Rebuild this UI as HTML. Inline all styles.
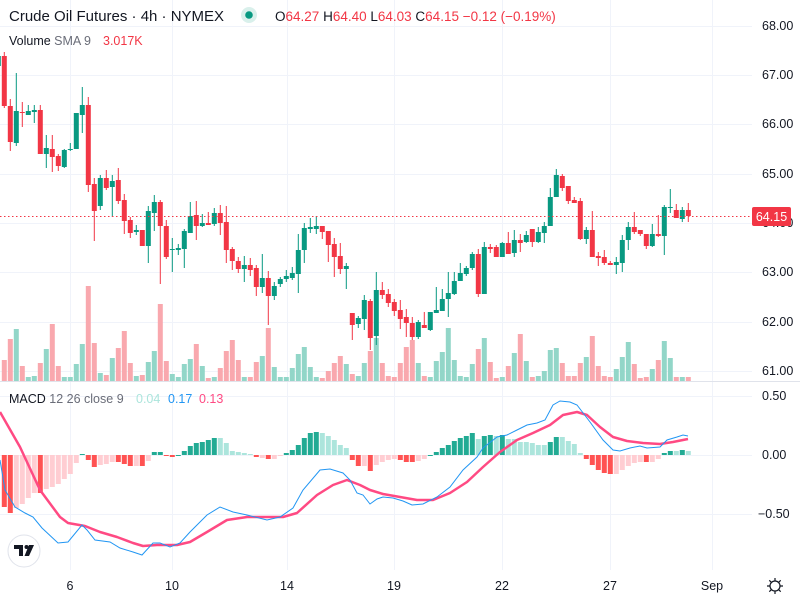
<!DOCTYPE html>
<html><head><meta charset="utf-8"><style>
html,body{margin:0;padding:0;background:#fff;width:800px;height:600px;overflow:hidden}
svg{display:block}
text{font-family:"Liberation Sans",sans-serif}
</style></head><body>
<svg id="s" width="800" height="600" xmlns="http://www.w3.org/2000/svg">
<g id="grid" stroke="#f0f3fa" stroke-width="1"></g>
<line x1="0" y1="381.5" x2="800" y2="381.5" stroke="#e0e3eb"/>
<g id="vol"></g>
<g id="hist"></g>
<g id="cand"></g>
<line x1="0" y1="216.5" x2="752" y2="216.5" stroke="#f23645" stroke-dasharray="1.5,2.5"/>
<polyline id="sig" fill="none" stroke="#ff4a83" stroke-width="2.5" stroke-linejoin="round"/>
<polyline id="mac" fill="none" stroke="#2196f3" stroke-width="1"/>
<g font-size="12.5" fill="#131722">
<text x="762" y="30">68.00</text><text x="762" y="79">67.00</text><text x="762" y="128">66.00</text>
<text x="762" y="178">65.00</text><text x="762" y="227">64.00</text><text x="762" y="276">63.00</text>
<text x="762" y="326">62.00</text><text x="762" y="375">61.00</text>
<text x="762" y="400">0.50</text><text x="762" y="459">0.00</text><text x="758" y="518">−0.50</text>
</g>
<rect x="752" y="207" width="39" height="19" rx="2" fill="#f23645"/>
<text x="771.5" y="221" font-size="12.5" fill="#fff" text-anchor="middle">64.15</text>
<g font-size="12.5" fill="#131722" text-anchor="middle">
<text x="70" y="590">6</text><text x="172" y="590">10</text><text x="287" y="590">14</text>
<text x="394" y="590">19</text><text x="502" y="590">22</text><text x="610" y="590">27</text>
<text x="712" y="590">Sep</text>
</g>
<g stroke="#131722" fill="none" stroke-width="1.2">
<circle cx="775" cy="586" r="5"/>
<path d="M775 578v3M775 591v3M767 586h3M780 586h3M769.3 580.3l2.1 2.1M778.6 589.6l2.1 2.1M769.3 591.7l2.1-2.1M778.6 582.4l2.1-2.1"/>
</g>
<text x="9" y="21" font-size="15" fill="#131722">Crude Oil Futures · 4h · NYMEX</text>
<circle cx="249" cy="15" r="8" fill="#d9f0eb"/><circle cx="249" cy="15" r="3.8" fill="#089981"/>
<text x="275" y="21" font-size="13.5" fill="#f23645"><tspan fill="#131722">O</tspan>64.27 <tspan fill="#131722">H</tspan>64.40 <tspan fill="#131722">L</tspan>64.03 <tspan fill="#131722">C</tspan>64.15 −0.12 (−0.19%)</text>
<text x="9" y="45" font-size="12.5" fill="#131722">Volume <tspan fill="#6a6d78">SMA 9</tspan><tspan x="103" fill="#f23645">3.017K</tspan></text>
<text x="9" y="403" font-size="12.5" fill="#131722">MACD <tspan fill="#6a6d78">12 26 close 9</tspan><tspan x="136" fill="#ace5dc">0.04</tspan><tspan x="168" fill="#2196f3">0.17</tspan><tspan x="199" fill="#ff4a83">0.13</tspan></text>
<circle cx="24" cy="551" r="16" fill="#fff" stroke="#e0e3eb"/>
<path d="M14 545h9v11h-4v-7h-5z" fill="#131722"/><circle cx="26.5" cy="547" r="2" fill="#131722"/><path d="M29 545h5l-5 11h-4.5z" fill="#131722"/>
</svg>
<script>
var NS="http://www.w3.org/2000/svg";
function el(p,t,a){var e=document.createElementNS(NS,t);for(var k in a)e.setAttribute(k,a[k]);document.getElementById(p).appendChild(e);return e;}
[26,75,124,174,223,272,322,371,396,455,514].forEach(function(y){el("grid","line",{x1:0,x2:752,y1:y+.5,y2:y+.5});});
[70,172,287,394,502,610,712].forEach(function(x){el("grid","line",{x1:x+.5,x2:x+.5,y1:0,y2:570});});
var C="r 56 106 52 108|r 106 142 99 151|g 111 143 73 146|r 112 113 102 127|g 111 115 105 115|g 110 112 105 123|r 110 154 105 154|g 148 154 135 168|r 149 157 135 172|r 156 166 154 171|g 150 167 149 168|g 149 150 143 151|g 113 149 113 149|g 105 115 87 133|r 105 185 97 192|r 184 211 178 241|g 178 206 175 210|r 178 188 170 190|g 181 187 175 217|r 180 201 168 204|r 200 221 194 234|r 220 233 217 238|g 230 232 225 235|r 230 246 230 246|g 211 246 206 263|g 202 213 195 231|r 202 226 200 284|r 226 257 220 259|g 249 250 238 272|g 248 250 244 255|g 231 249 229 268|g 216 233 202 233|r 215 226 201 240|g 223 226 214 227|r 223 225 212 225|g 213 224 208 226|r 213 223 205 235|r 222 250 206 263|r 249 261 247 270|r 261 269 257 273|g 265 269 256 282|r 265 270 258 276|r 268 287 265 296|g 278 287 254 293|r 278 296 271 325|g 286 296 282 300|g 279 284 277 287|g 276 279 270 282|g 273 278 267 280|g 250 274 234 293|g 228 250 223 263|g 227 229 218 233|g 226 229 216 234|r 226 232 226 239|r 231 245 231 262|r 244 257 238 277|r 256 269 243 274|g 266 269 263 289|r 313 325 313 340|g 318 324 316 328|g 300 319 295 330|r 301 338 299 350|g 290 336 272 345|r 290 295 282 299|r 294 303 289 307|r 302 311 299 316|r 310 319 300 329|r 317 323 309 337|r 323 337 317 340|g 322 337 320 339|r 325 328 312 328|g 312 330 312 331|g 310 313 287 313|g 299 311 289 311|g 293 299 272 317|g 281 294 272 295|g 273 281 263 281|g 268 274 266 276|g 254 268 252 270|r 254 294 249 297|g 247 294 242 294|r 247 249 244 253|r 247 257 245 257|g 243 257 242 257|r 243 254 232 254|g 240 253 230 257|r 240 243 234 252|g 235 242 231 243|r 229 242 229 247|g 232 242 227 243|g 226 233 222 243|g 197 226 188 226|g 175 197 169 197|r 176 188 174 191|r 186 201 186 204|r 200 203 197 203|r 201 239 198 240|g 230 239 227 244|r 230 257 211 257|r 256 258 252 266|r 257 263 250 265|r 263 265 261 265|g 262 265 257 274|g 240 263 235 272|g 227 240 222 250|r 227 232 212 234|r 230 234 230 236|r 234 246 234 249|g 234 246 224 247|r 234 236 215 237|g 207 236 205 255|g 207 208 189 213|r 210 218 204 218|g 210 219 207 222|r 210 216 203 222".split("|");
var V="360p 339p 329g 366p 377g 376g 363p 349g 324p 366p 377g 377g 364g 344g 286p 343p 373g 375p 358g 348p 331p 363p 376g 375p 362g 351g 304p 361p 374g 377g 364g 359g 344p 366g 378p 377g 368p 351p 340p 360p 377g 377p 362p 356g 328p 367g 377g 377g 368g 354g 347g 367g 377g 378p 371p 363p 356p 364g 374p 376g 363g 351p 338g 363p 376p 377p 363p 347p 340p 363g 376p 377g 361g 352g 328g 360g 376g 377g 364g 349p 338g 362p 378p 377g 366p 353g 334p 361g 377p 376g 371g 350g 348g 363p 376p 376p 363p 357g 336p 366p 376p 377p 369g 357g 342g 364p 378p 377p 369g 360p 341g 358g 377p 377g 377p".split(" ");
var H="507R 513R 508r 504r 498r 493r 493R 489r 487r 484r 479r 474r 463r 454G 460R 467R 465r 464r 462r 462R 464R 466R 466r 466R 461r 452G 452G 456R 457R 455G 451G 446G 443G 442G 440G 438G 438g 443g 451g 452g 453g 454g 457R 458r 459R 459r 456r 453G 450G 445G 438G 433G 432G 433g 436g 440g 445g 448g 460R 466R 466r 471R 465r 462r 460r 459r 460R 462R 462R 461r 459r 455G 452G 448G 445G 441G 438G 436G 433G 439g 436G 435G 436g 435G 439g 439g 442g 442g 443g 445g 445g 442G 437G 437g 441g 444g 453g 459R 465R 470R 473R 474R 474r 470r 466r 463r 462r 462R 462r 459r 453G 451G 451g 450G 451g".split(" ");
var hc={R:"#ff5252",r:"#ffcdd2",G:"#22ab94",g:"#ace5dc"};
el("cand","rect",{x:-4.2,y:56,width:5,height:10,fill:"#089981"});
for(var i=0;i<C.length;i++){
 var x=4.3+6*i,p=C[i].split(" "),col=p[0]=="g"?"#089981":"#f23645";
 var bt=+p[1],bb=+p[2],wt=+p[3],wb=+p[4];if(bb-bt<1)bb=bt+1.2;
 el("cand","rect",{x:x-0.5,y:wt,width:1,height:Math.max(1,wb-wt),fill:col});
 el("cand","rect",{x:x-2.5,y:bt,width:5,height:bb-bt,fill:col});
 var v=V[i],vt=parseInt(v);
 el("vol","rect",{x:x-2.5,y:vt,width:5,height:381-vt,fill:v.slice(-1)=="g"?"#92d6c8":"#f9a8ae"});
 var h=H[i],hy=parseInt(h),t=h.slice(-1);
 el("hist","rect",{x:x-2.5,y:Math.min(hy,455),width:5,height:Math.max(1,Math.abs(hy-455)),fill:hc[t]});
}
document.getElementById("mac").setAttribute("points","0,460 5,490 15,507 25,513 33,517 42,528 58,543 68,542 82,525 87,530 95,540 110,542 120,548 133,552 142,555 153,543 160,543 170,547 180,543 190,532 207,515 220,507 233,512 247,515 267,520 280,517 293,508 303,490 320,470 330,469 343,473 350,480 357,493 363,495 370,504 377,499 383,497 393,498 403,501 412,505 423,504 437,497 450,487 463,470 477,457 483,448 497,437 507,435 517,430 527,425 537,423 545,420 553,405 560,401 570,402 577,405 590,422 603,440 613,450 620,451 630,448 640,446 647,448 660,447 667,440 677,437 683,435 688,436");
document.getElementById("sig").setAttribute("points","0,412 20,447 40,490 60,517 68,523 85,526 100,532 117,537 133,543 143,546 157,545 177,545 190,542 207,532 227,520 247,517 267,517 283,517 297,513 317,495 333,485 347,480 360,485 370,490 383,494 400,497 417,500 433,500 450,493 467,482 483,467 500,452 517,440 533,433 550,425 563,415 577,412 587,415 600,427 613,437 627,441 643,443 660,444 673,442 688,439");
</script>
</body></html>
